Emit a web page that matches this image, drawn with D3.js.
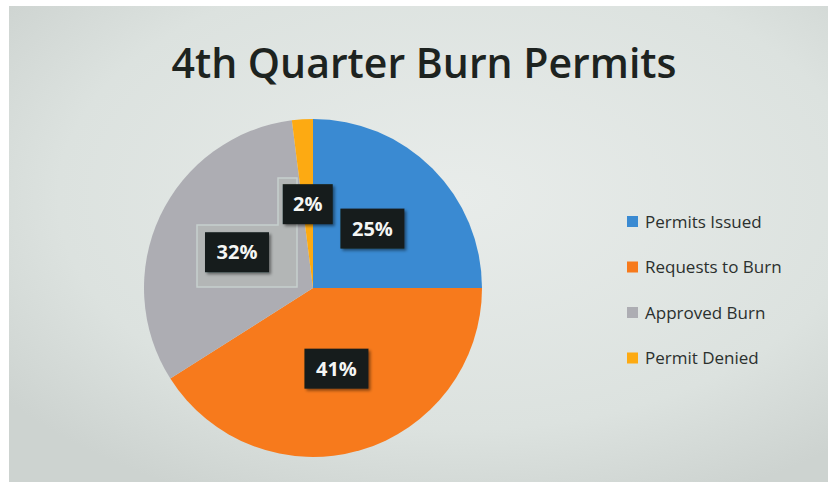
<!DOCTYPE html>
<html lang="en">
<head>
    <meta charset="UTF-8">
    <title>4th Quarter Burn Permits</title>
    <script src="https://d3js.org/d3.v7.min.js"></script>
    <style>
        body { margin: 0; background: #fff; }
        svg { display: block; }
        .title { font-family: "Open Sans", sans-serif; font-weight: 600; fill: #1d2320; }
        .legend text { font-family: "Open Sans", sans-serif; fill: #2b302e; }
        .pct { font-family: "Open Sans", sans-serif; font-weight: 700; fill: #f4f6f4; }
    </style>
</head>
<body>
    <div id="chart"></div>
    <script>
        const categories = ["Permits Issued", "Requests to Burn", "Approved Burn", "Permit Denied"];
        const values = [25, 41, 32, 2];
        const colors = ["#3a8ad2", "#f77a1c", "#adadb3", "#fdaa12"];

        const width = 828, height = 489;
        const cx = 313, cy = 288, radius = 169;

        const svg = d3.select("#chart").append("svg")
            .attr("width", width)
            .attr("height", height);

        // photographed page background
        const defs = svg.append("defs");
        const bg = defs.append("radialGradient").attr("id", "bg")
            .attr("cx", "55%").attr("cy", "40%").attr("r", "70%");
        bg.append("stop").attr("offset", "0%").attr("stop-color", "#e8ecea");
        bg.append("stop").attr("offset", "70%").attr("stop-color", "#dce2df");
        bg.append("stop").attr("offset", "100%").attr("stop-color", "#cdd3d0");

        const shadow = defs.append("filter").attr("id", "shadow")
            .attr("x", "-30%").attr("y", "-30%").attr("width", "160%").attr("height", "160%");
        shadow.append("feDropShadow").attr("dx", 2).attr("dy", 2)
            .attr("stdDeviation", 1.5).attr("flood-color", "#000").attr("flood-opacity", 0.45);

        svg.append("rect")
            .attr("x", 9).attr("y", 6)
            .attr("width", width - 9).attr("height", 476)
            .attr("fill", "url(#bg)");

        svg.append("text")
            .attr("class", "title")
            .attr("x", 424).attr("y", 78)
            .attr("text-anchor", "middle")
            .attr("font-size", 41)
            .text("4th Quarter Burn Permits");

        const pie = d3.pie().sort(null).value(d => d)(values);
        const arc = d3.arc().innerRadius(0).outerRadius(radius);
        const labelArc = d3.arc().innerRadius(84).outerRadius(84);

        const g = svg.append("g").attr("transform", `translate(${cx},${cy})`);

        g.selectAll("path.slice")
            .data(pie)
            .join("path")
            .attr("class", "slice")
            .attr("d", arc)
            .attr("fill", (d, i) => colors[i]);

        // faint outline left behind where the labels were dragged
        g.append("path")
            .attr("d", "M-116,-63 H-35 V-110 H-16 V-1 H-116 Z")
            .attr("fill", "#b3b6b6")
            .attr("stroke", "#c6d0ce")
            .attr("stroke-width", 1.5);

        const labels = g.selectAll("g.label")
            .data(pie)
            .join("g")
            .attr("class", "label")
            .attr("transform", d => `translate(${labelArc.centroid(d)})`);

        labels.append("rect")
            .attr("x", d => d.data < 10 ? -25 : -32)
            .attr("y", -20)
            .attr("width", d => d.data < 10 ? 50 : 64)
            .attr("height", 40)
            .attr("fill", "#151d1a")
            .attr("filter", "url(#shadow)");

        labels.append("text")
            .attr("class", "pct")
            .attr("text-anchor", "middle")
            .attr("dy", "0.36em")
            .attr("font-size", 20)
            .text(d => d.data + "%");

        const legend = svg.append("g").attr("class", "legend")
            .attr("transform", "translate(627,222)");

        const rows = legend.selectAll("g")
            .data(categories)
            .join("g")
            .attr("transform", (d, i) => `translate(0,${i * 45.5})`);

        rows.append("rect")
            .attr("x", 0).attr("y", -6)
            .attr("width", 11).attr("height", 11)
            .attr("fill", (d, i) => colors[i]);

        rows.append("text")
            .attr("x", 18)
            .attr("dy", "0.35em")
            .attr("font-size", 17)
            .text(d => d);
    </script>
</body>
</html>
